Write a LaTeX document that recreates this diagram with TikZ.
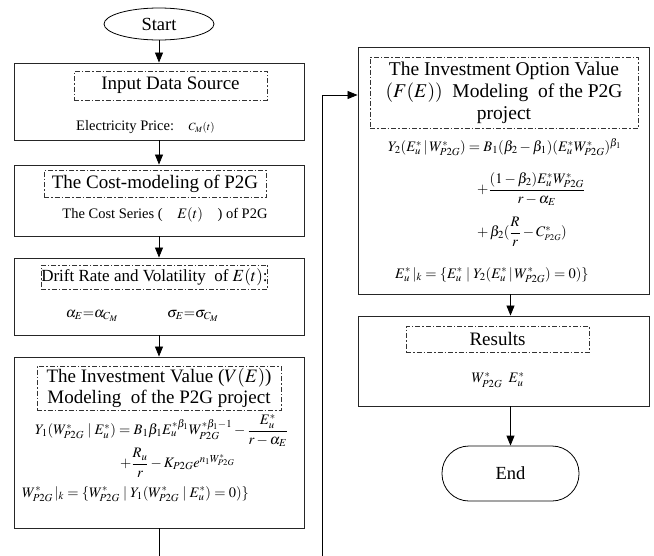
\documentclass[tikz,border=0pt]{standalone}
\usepackage{amsmath}
\usepackage{mathptmx}
\usepackage{fontspec}
\setmainfont{Liberation Serif}
\usetikzlibrary{arrows.meta,shapes.geometric,calc}
\begin{document}
\begin{tikzpicture}[x=1pt,y=-1pt,
  box/.style={draw=black!85, line width=0.9pt, inner sep=0pt, minimum width=290pt},
  ddbox/.style={draw=black!80, line width=0.7pt, dash pattern=on 5pt off 2pt on 1.5pt off 2pt, inner sep=0pt, align=center, font=\fontsize{19}{22}\selectfont},
  arr/.style={line width=0.8pt, -{Triangle[length=10pt,width=8pt]}},
  body/.style={inner sep=0pt, font=\fontsize{14.5}{16}\selectfont},
  eq/.style={inner sep=0pt, anchor=west, font=\fontsize{14.5}{16}\selectfont}]
\useasboundingbox (0,0) rectangle (654,555);
\clip (0,0) rectangle (654,555);
\fill[white] (0,0) rectangle (654,555);

% left column
\node[draw, ellipse, line width=0.8pt, minimum width=110pt, minimum height=32pt, inner sep=0pt, font=\fontsize{18.5}{20}\selectfont] (start) at (159,24) {Start};

\node[box, minimum height=77pt] (b1) at (159,101.5) {};
\node[ddbox, minimum width=193pt, minimum height=29pt] (t1) at (170.5,85.5) {Input Data Source};
\node[body] (e1) at (145.5,127) {Electricity Price:\quad{\fontsize{11}{12}\selectfont$C_M(t)$}};

\node[box, minimum height=71pt] (b2) at (159,200.5) {};
\node[ddbox, minimum width=222pt, minimum height=27pt] (t2) at (155,183.5) {The Cost-modeling of P2G};
\node[body] (e2) at (165,215) {The Cost Series (\quad$E(t)$\quad) of P2G};

\node[box, minimum height=77pt] (b3) at (159,296.5) {};
\node[ddbox, minimum width=215pt, minimum height=24pt, font=\fontsize{17}{20}\selectfont] (t3) at (154.5,277) {Drift Rate and Volatility\ \ of $E(t)$:};
\node[body] (e3a) at (92,316) {$\alpha_E{=}\alpha_{C_M}$};
\node[body] (e3b) at (193,316) {$\sigma_E{=}\sigma_{C_M}$};

\node[box, minimum height=171pt] (b4) at (159,442.5) {};
\node[ddbox, minimum width=244pt, minimum height=44pt, font=\fontsize{19}{21}\selectfont] (t4) at (159,388) {The Investment Value ($V(E)$)\\Modeling\ \ of the P2G project};
\node[eq] (e4a) at (35,430.5) {$Y_1(W^*_{P2G}\mid E^*_u)=B_1\beta_1E_u^{*\beta_1}W_{P2G}^{*\beta_1-1}-\dfrac{E^*_u}{r-\alpha_E}$};
\node[eq] (e4b) at (120,463) {$+\dfrac{R_u}{r}-K_{P2G}e^{n_1W^*_{P2G}}$};
\node[eq] (e4c) at (22,494) {$W^*_{P2G}\,|_k=\{W^*_{P2G}\mid Y_1(W^*_{P2G}\mid E^*_u)=0)\}$};

% right column
\node[box, minimum width=291pt, minimum height=247pt] (b5) at (503.5,170.5) {};
\node[ddbox, minimum width=268pt, minimum height=71pt, font=\fontsize{19.5}{22}\selectfont] (t5) at (504,92.5) {The Investment Option Value\\$(F(E))$\ \ Modeling\ \ of the P2G\\project};
\node[eq] (e5a) at (388,147) {$Y_2(E^*_u\,|\,W^*_{P2G})=B_1(\beta_2-\beta_1)(E^*_uW^*_{P2G})^{\beta_1}$};
\node[eq] (e5b) at (477,189) {$+\dfrac{(1-\beta_2)E^*_uW^*_{P2G}}{r-\alpha_E}$};
\node[eq] (e5c) at (477,232) {$+\,\beta_2(\dfrac{R}{r}-C^*_{\scriptscriptstyle P2G})$};
\node[eq] (e5d) at (395,275) {$E^*_u\,|_k=\{E^*_u\mid Y_2(E^*_u\,|\,W^*_{P2G})=0)\}$};

\node[box, minimum width=291pt, minimum height=90pt] (b6) at (503.5,361) {};
\node[ddbox, minimum width=183pt, minimum height=26pt] (t6) at (497.5,339) {Results};
\node[body] (e6) at (498,380) {$W^*_{P2G}\;\;E^*_u$};

\node[draw, line width=0.8pt, rounded corners=27pt, minimum width=137pt, minimum height=55pt, inner sep=0pt, font=\fontsize{18.5}{20}\selectfont] (endn) at (510.5,473.5) {End};

% connectors
\draw[arr] (start) -- (b1);
\draw[arr] (b1) -- (b2);
\draw[arr] (b2) -- (b3);
\draw[arr] (b3) -- (b4);
\coordinate (lb) at (159,585);
\coordinate (rb) at (322,585);
\coordinate (rt) at (322,95);
\draw[arr] (b4.south) -- (lb) -- (rb) -- (rt) -- (rt -| b5.west);
\draw[arr] (b5.south -| endn.north) -- (b6.north -| endn.north);
\draw[arr] (b6.south -| endn.north) -- (endn);
\end{tikzpicture}
\end{document}
